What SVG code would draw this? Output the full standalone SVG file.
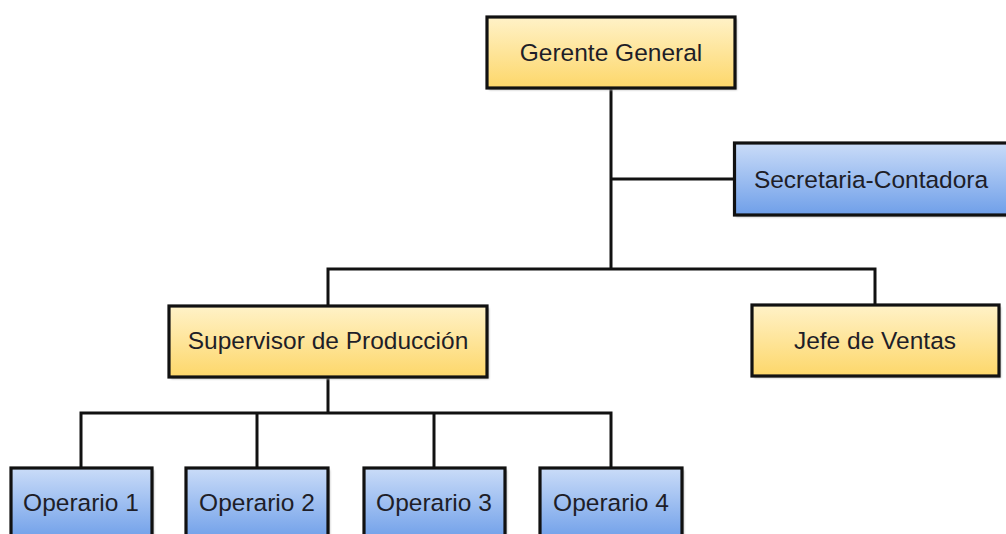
<svg xmlns="http://www.w3.org/2000/svg" width="1006" height="534" viewBox="0 0 1006 534">
  <defs>
    <linearGradient id="gold" x1="0" y1="0" x2="0" y2="1">
      <stop offset="0" stop-color="#fff2c8"/>
      <stop offset="1" stop-color="#fdd76a"/>
    </linearGradient>
    <linearGradient id="blue" x1="0" y1="0" x2="0" y2="1">
      <stop offset="0" stop-color="#cadcf8"/>
      <stop offset="1" stop-color="#6f9fe9"/>
    </linearGradient>
    <filter id="shadow" x="-10%" y="-10%" width="130%" height="140%">
      <feGaussianBlur stdDeviation="1"/>
    </filter>
  </defs>
  <style>
    .box { stroke: #111; stroke-width: 3.2; }
    .gold { fill: url(#gold); }
    .blue { fill: url(#blue); }
    .shade { fill: #b8b8b8; filter: url(#shadow); }
    .label { font-family: "Liberation Sans", Arial, sans-serif; font-size: 24.5px; fill: #1e1e28; text-anchor: middle; dominant-baseline: central; }
    .wire { fill: none; stroke: #111; stroke-width: 3; stroke-linejoin: miter; }
  </style>

  <rect width="1006" height="534" fill="#ffffff"/>

  <!-- connectors -->
  <g id="connectors">
    <path class="wire" d="M611 88 V269"/>
    <path class="wire" d="M611 179 H734"/>
    <path class="wire" d="M328 306 V269 H875 V305"/>
    <path class="wire" d="M328 377 V413"/>
    <path class="wire" d="M81 468 V413 H611 V468"/>
    <path class="wire" d="M257 413 V468"/>
    <path class="wire" d="M434 413 V468"/>
  </g>

  <g id="gerente-general">
    <rect class="shade" x="489" y="19" width="248" height="71"/>
    <rect class="box gold" x="487" y="17" width="248" height="71"/>
    <text class="label" x="611" y="52">Gerente General</text>
  </g>

  <g id="secretaria-contadora">
    <rect class="shade" x="736" y="145" width="280" height="72"/>
    <rect class="box blue" x="734.5" y="143" width="280" height="72"/>
    <text class="label" x="871" y="179">Secretaria-Contadora</text>
  </g>

  <g id="supervisor-produccion">
    <rect class="shade" x="171" y="308" width="318" height="71"/>
    <rect class="box gold" x="169" y="306" width="318" height="71"/>
    <text class="label" x="328" y="340">Supervisor de Producción</text>
  </g>

  <g id="jefe-ventas">
    <rect class="shade" x="754" y="307" width="247" height="71"/>
    <rect class="box gold" x="752" y="305" width="247" height="71"/>
    <text class="label" x="875" y="340">Jefe de Ventas</text>
  </g>

  <g id="operario-1">
    <rect class="shade" x="13" y="470" width="141" height="72"/>
    <rect class="box blue" x="11" y="468" width="141" height="72"/>
    <text class="label" x="81" y="502">Operario 1</text>
  </g>

  <g id="operario-2">
    <rect class="shade" x="188" y="470" width="142" height="72"/>
    <rect class="box blue" x="186" y="468" width="142" height="72"/>
    <text class="label" x="257" y="502">Operario 2</text>
  </g>

  <g id="operario-3">
    <rect class="shade" x="366" y="470" width="141" height="72"/>
    <rect class="box blue" x="364" y="468" width="141" height="72"/>
    <text class="label" x="434" y="502">Operario 3</text>
  </g>

  <g id="operario-4">
    <rect class="shade" x="542" y="470" width="142" height="72"/>
    <rect class="box blue" x="540" y="468" width="142" height="72"/>
    <text class="label" x="611" y="502">Operario 4</text>
  </g>
</svg>
